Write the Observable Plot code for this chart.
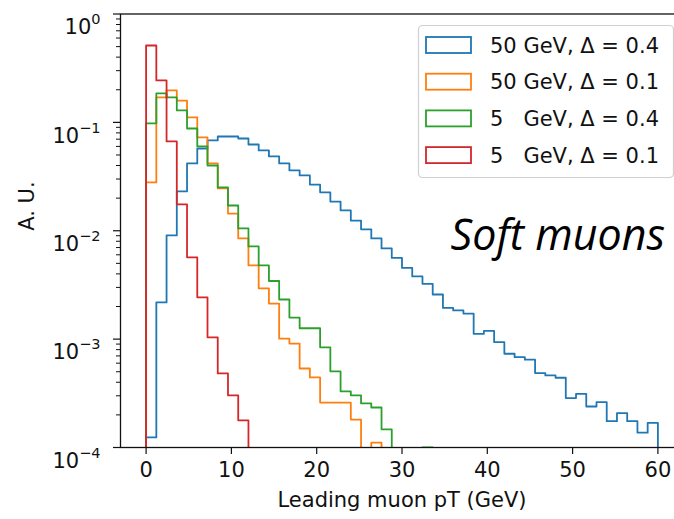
<!DOCTYPE html>
<html>
<head>
<meta charset="utf-8">
<script src="https://cdn.jsdelivr.net/npm/d3@7"></script>
<script src="https://cdn.jsdelivr.net/npm/@observablehq/plot@0.6"></script>
<style>
  html, body { margin: 0; padding: 0; background: #fff; }
</style>
</head>
<body>
<div id="chart"></div>
<script>
// ---- data (histograms, 50 bins of width 1.2 GeV from 0 to 60 GeV) ----
const binStart = 0;
const binWidth = 1.2;
const seriesNames = ["50 GeV, \u0394 = 0.4", "50 GeV, \u0394 = 0.1", "5\u2007 GeV, \u0394 = 0.4", "5\u2007 GeV, \u0394 = 0.1"];
const seriesColors = ["#1f77b4", "#ff7f0e", "#2ca02c", "#d62728"];

const blue50_04 = [
  0.000124, 0.00218, 0.00905, 0.0231, 0.0418, 0.0574, 0.0681, 0.0741, 0.0741, 0.0710,
  0.0625, 0.0551, 0.0485, 0.0418, 0.0360, 0.0324, 0.0267, 0.0226, 0.0186, 0.0154,
  0.0124, 0.0103, 0.00849, 0.00687, 0.00561, 0.00454, 0.00379, 0.00324, 0.00258, 0.00194,
  0.00184, 0.00172, 0.00112, 0.00119, 0.000938, 0.000733, 0.000682, 0.000646, 0.000486, 0.000462,
  0.000440, 0.000286, 0.000313, 0.000239, 0.000262, 0.000175, 0.000208, 0.000175, 0.000137, 0.000169
];
const orange50_01 = [
  0.0279, 0.170, 0.197, 0.159, 0.111, 0.0726, 0.0418, 0.0246, 0.0144, 0.0085,
  0.00479, 0.00294, 0.00213, 0.00101, 0.00091, 0.000536, 0.000443, 0.00026, 0.00026, 0.00026,
  0.000181, 0, 0.000111, 0, 0, 0, 0, 0, 0, 0,
  0, 0, 0, 0, 0, 0, 0, 0, 0, 0,
  0, 0, 0, 0, 0, 0, 0, 0, 0, 0
];
const green5_04 = [
  0.0977, 0.185, 0.170, 0.129, 0.0878, 0.060, 0.040, 0.0251, 0.0171, 0.0105,
  0.00716, 0.00479, 0.00344, 0.00232, 0.00158, 0.00126, 0.00126, 0.00084, 0.000504, 0.00033,
  0.000303, 0.000255, 0.000234, 0.000147, 0, 0, 0, 0.0001003, 0, 0,
  0, 0, 0, 0, 0, 0, 0, 0, 0, 0,
  0, 0, 0, 0, 0, 0, 0, 0, 0, 0
];
const red5_01 = [
  0.512, 0.244, 0.0667, 0.0175, 0.00568, 0.00243, 0.00104, 0.000483, 0.000303, 0.000178,
  0, 0, 0, 0, 0, 0, 0, 0, 0, 0,
  0, 0, 0, 0, 0, 0, 0, 0, 0, 0,
  0, 0, 0, 0, 0, 0, 0, 0, 0, 0,
  0, 0, 0, 0, 0, 0, 0, 0, 0, 0
];
const seriesValues = [blue50_04, orange50_01, green5_04, red5_01];

const xTicks = [0, 10, 20, 30, 40, 50, 60];
const yTicks = [1e-4, 1e-3, 1e-2, 1e-1, 1];
const xLabel = "Leading muon pT (GeV)";
const yLabel = "A. U.";
const annotation = "Soft muons";

// ---- build step outlines (like matplotlib histtype="step") ----
const FLOOR = 1e-7; // below the visible log domain; gets clipped
function outline(vals, name) {
  const pts = [{x: binStart, y: FLOOR, s: name}];
  vals.forEach((v, i) => pts.push({x: binStart + i * binWidth, y: v > 0 ? v : FLOOR, s: name}));
  const last = vals[vals.length - 1];
  const end = binStart + vals.length * binWidth;
  pts.push({x: end, y: last > 0 ? last : FLOOR, s: name});
  pts.push({x: end, y: FLOOR, s: name});
  return pts;
}

const minorTicks = [];
for (let e = -4; e < 0; e++) for (let m = 2; m <= 9; m++) minorTicks.push(m * Math.pow(10, e));

const supMap = {"-": "\u207B", "0": "\u2070", "1": "\u00B9", "2": "\u00B2", "3": "\u00B3", "4": "\u2074"};
const fmtPow = d => "10" + String(Math.round(Math.log10(d))).split("").map(c => supMap[c]).join("");

const ink = "#111";
const FS = 21;

const lineMarks = seriesValues.map((vals, k) =>
  Plot.line(outline(vals, seriesNames[k]), {
    x: "x", y: "y", curve: "step-after",
    stroke: seriesColors[k], strokeWidth: 1.8, clip: true
  })
);

const svg = Plot.plot({
  width: 674,
  height: 519,
  marginLeft: 120,
  marginRight: -9,
  marginTop: 13.5,
  marginBottom: 72,
  x: {domain: [-3, 63]},
  y: {type: "log", domain: [1e-4, 1]},
  style: {fontFamily: "DejaVu Sans, sans-serif", fontSize: FS + "px", color: ink, background: "#fff"},
  marks: [
    ...lineMarks,
    Plot.frame({stroke: ink, strokeWidth: 1.3}),
    Plot.axisX({ticks: xTicks, tickSize: 7, tickPadding: 8, tickFormat: d => String(d), label: null, strokeWidth: 1.2}),
    Plot.axisY({ticks: yTicks, tickSize: 7, tickPadding: 13, tickFormat: fmtPow, label: null, strokeWidth: 1.2}),
    Plot.axisY({ticks: minorTicks, tickSize: 4, tickFormat: () => "", label: null, strokeWidth: 1}),
    Plot.text([xLabel], {text: d => d, frameAnchor: "bottom", dy: 59, fontSize: FS, fill: ink}),
    Plot.text([yLabel], {text: d => d, frameAnchor: "left", dx: -93, rotate: -90, fontSize: FS, fill: ink})
  ]
});

// ---- render y tick labels as 10 with a real superscript (matplotlib style) ----
const inv = {"\u207B": "\u2212", "\u2070": "0", "\u00B9": "1", "\u00B2": "2", "\u00B3": "3", "\u2074": "4"};
d3.select(svg).selectAll("text").each(function () {
  const t = this.textContent;
  if (/^10[\u207B\u2070\u00B9\u00B2\u00B3\u2074]+$/.test(t)) {
    const exp = t.slice(2).split("").map(c => inv[c]).join("");
    const sel = d3.select(this);
    sel.text(null).attr("dy", null).attr("dominant-baseline", null);
    sel.append("tspan").attr("dy", 13.6).text("10");
    sel.append("tspan").attr("dy", -10).attr("font-size", 14.5).text(exp);
  }
});

// ---- legend (inside the axes, upper right) and annotation ----
const g = d3.select(svg).append("g")
  .attr("font-family", "DejaVu Sans, sans-serif").attr("font-size", FS).attr("text-anchor", "start");
g.append("rect")
  .attr("x", 418.5).attr("y", 25.5).attr("width", 255).attr("height", 152).attr("rx", 4)
  .attr("fill", "#fff").attr("fill-opacity", 0.8).attr("stroke", "#d0d0d0").attr("stroke-width", 1.2);
seriesNames.forEach((name, i) => {
  const cy = 45 + i * 36.7;
  g.append("rect")
    .attr("x", 426).attr("y", cy - 8).attr("width", 45).attr("height", 16)
    .attr("fill", "none").attr("stroke", seriesColors[i]).attr("stroke-width", 1.8);
  g.append("text")
    .attr("x", 490).attr("y", cy).attr("dy", "0.36em").attr("text-anchor", "start")
    .attr("fill", ink).style("white-space", "pre")
    .text(name);
});
d3.select(svg).append("text")
  .attr("x", 665).attr("y", 250).attr("text-anchor", "end")
  .attr("font-family", "Open Sans, Lato, sans-serif").attr("font-style", "italic")
  .attr("font-size", 43).attr("fill", "#000")
  .text(annotation);

document.getElementById("chart").appendChild(svg);
</script>
</body>
</html>
